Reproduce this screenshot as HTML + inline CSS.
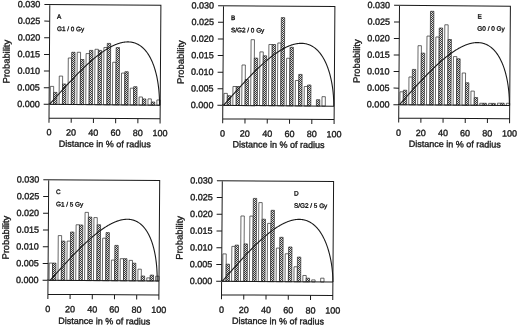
<!DOCTYPE html>
<html><head><meta charset="utf-8"><style>
html,body{margin:0;padding:0;background:#fff;width:520px;height:327px;overflow:hidden}
svg{display:block;filter:grayscale(1) blur(0.3px)}
text{font-family:"Liberation Sans",sans-serif;stroke:#1a1a1a;stroke-width:0.35px}
</style></head><body>
<svg width="520" height="327" viewBox="0 0 520 327">
<defs><pattern id="hatA" patternUnits="userSpaceOnUse" width="2" height="2" patternTransform="rotate(-0.4) translate(-49.8,-4.5)"><rect width="2" height="2" fill="#e0e0e0"/><rect width="1" height="1" fill="#3a3a3a"/><rect x="1" y="1" width="1" height="1" fill="#3a3a3a"/></pattern><pattern id="hatB" patternUnits="userSpaceOnUse" width="2" height="2" patternTransform="rotate(-0.4) translate(-223.5,-5.7)"><rect width="2" height="2" fill="#e0e0e0"/><rect width="1" height="1" fill="#3a3a3a"/><rect x="1" y="1" width="1" height="1" fill="#3a3a3a"/></pattern><pattern id="hatE" patternUnits="userSpaceOnUse" width="2" height="2" patternTransform="rotate(-0.4) translate(-399.5,-5.4)"><rect width="2" height="2" fill="#e0e0e0"/><rect width="1" height="1" fill="#3a3a3a"/><rect x="1" y="1" width="1" height="1" fill="#3a3a3a"/></pattern><pattern id="hatC" patternUnits="userSpaceOnUse" width="2" height="2" patternTransform="rotate(-0.4) translate(-48.7,-179.8)"><rect width="2" height="2" fill="#e0e0e0"/><rect width="1" height="1" fill="#3a3a3a"/><rect x="1" y="1" width="1" height="1" fill="#3a3a3a"/></pattern><pattern id="hatD" patternUnits="userSpaceOnUse" width="2" height="2" patternTransform="rotate(-0.4) translate(-222.3,-180.7)"><rect width="2" height="2" fill="#e0e0e0"/><rect width="1" height="1" fill="#3a3a3a"/><rect x="1" y="1" width="1" height="1" fill="#3a3a3a"/></pattern></defs>
<rect width="520" height="327" fill="#fff"/>
<g transform="translate(49.8,4.5) rotate(0.4)">
<rect x="1.09" y="81.87" width="3.35" height="18.03" fill="#fff" stroke="#2a2a2a" stroke-width="0.7"/>
<rect x="4.44" y="87.87" width="3.35" height="12.03" fill="url(#hatA)" stroke="#2a2a2a" stroke-width="0.7"/>
<rect x="9.98" y="71.51" width="3.35" height="28.39" fill="#fff" stroke="#2a2a2a" stroke-width="0.7"/>
<rect x="13.33" y="79.41" width="3.35" height="20.49" fill="url(#hatA)" stroke="#2a2a2a" stroke-width="0.7"/>
<rect x="18.87" y="53.34" width="3.35" height="46.56" fill="#fff" stroke="#2a2a2a" stroke-width="0.7"/>
<rect x="22.22" y="47.64" width="3.35" height="52.26" fill="url(#hatA)" stroke="#2a2a2a" stroke-width="0.7"/>
<rect x="27.76" y="47.58" width="3.35" height="52.32" fill="#fff" stroke="#2a2a2a" stroke-width="0.7"/>
<rect x="31.11" y="54.78" width="3.35" height="45.12" fill="url(#hatA)" stroke="#2a2a2a" stroke-width="0.7"/>
<rect x="36.65" y="48.82" width="3.35" height="51.08" fill="#fff" stroke="#2a2a2a" stroke-width="0.7"/>
<rect x="40" y="45.62" width="3.35" height="54.28" fill="url(#hatA)" stroke="#2a2a2a" stroke-width="0.7"/>
<rect x="45.53" y="44.46" width="3.35" height="55.44" fill="#fff" stroke="#2a2a2a" stroke-width="0.7"/>
<rect x="48.88" y="45.56" width="3.35" height="54.34" fill="url(#hatA)" stroke="#2a2a2a" stroke-width="0.7"/>
<rect x="54.42" y="42.6" width="3.35" height="57.3" fill="#fff" stroke="#2a2a2a" stroke-width="0.7"/>
<rect x="57.77" y="38.5" width="3.35" height="61.4" fill="url(#hatA)" stroke="#2a2a2a" stroke-width="0.7"/>
<rect x="63.31" y="57.33" width="3.35" height="42.57" fill="#fff" stroke="#2a2a2a" stroke-width="0.7"/>
<rect x="66.66" y="42.63" width="3.35" height="57.27" fill="url(#hatA)" stroke="#2a2a2a" stroke-width="0.7"/>
<rect x="72.2" y="68.07" width="3.35" height="31.83" fill="#fff" stroke="#2a2a2a" stroke-width="0.7"/>
<rect x="75.55" y="66.67" width="3.35" height="33.23" fill="url(#hatA)" stroke="#2a2a2a" stroke-width="0.7"/>
<rect x="81.09" y="83.11" width="3.35" height="16.79" fill="#fff" stroke="#2a2a2a" stroke-width="0.7"/>
<rect x="84.44" y="81.61" width="3.35" height="18.29" fill="url(#hatA)" stroke="#2a2a2a" stroke-width="0.7"/>
<rect x="89.97" y="91.85" width="3.35" height="8.05" fill="#fff" stroke="#2a2a2a" stroke-width="0.7"/>
<rect x="93.32" y="93.75" width="3.35" height="6.15" fill="url(#hatA)" stroke="#2a2a2a" stroke-width="0.7"/>
<rect x="98.86" y="93.69" width="3.35" height="6.21" fill="#fff" stroke="#2a2a2a" stroke-width="0.7"/>
<rect x="102.21" y="96.79" width="3.35" height="3.11" fill="url(#hatA)" stroke="#2a2a2a" stroke-width="0.7"/>
<rect x="107.75" y="94.72" width="3.35" height="5.18" fill="#fff" stroke="#2a2a2a" stroke-width="0.7"/>
<path d="M0.4,99.9 L0.77,99.48 L1.13,99.06 L1.5,98.65 L1.87,98.23 L2.23,97.81 L2.6,97.39 L2.97,96.97 L3.33,96.56 L3.7,96.14 L4.07,95.72 L4.43,95.31 L4.8,94.89 L5.17,94.47 L5.53,94.05 L5.9,93.64 L6.27,93.22 L6.63,92.81 L7,92.39 L7.37,91.97 L7.73,91.56 L8.1,91.14 L8.47,90.73 L8.83,90.31 L9.2,89.9 L9.57,89.49 L9.93,89.07 L10.3,88.66 L10.67,88.25 L11.03,87.83 L11.4,87.42 L11.77,87.01 L12.13,86.6 L12.5,86.19 L12.87,85.78 L13.23,85.37 L13.6,84.96 L13.97,84.55 L14.33,84.14 L14.7,83.73 L15.07,83.33 L15.43,82.92 L15.8,82.51 L16.17,82.11 L16.53,81.7 L16.9,81.3 L17.27,80.9 L17.63,80.49 L18,80.09 L18.37,79.69 L18.73,79.29 L19.1,78.89 L19.47,78.49 L19.83,78.09 L20.2,77.69 L20.57,77.29 L20.93,76.9 L21.3,76.5 L21.67,76.11 L22.03,75.71 L22.4,75.32 L22.77,74.93 L23.13,74.53 L23.5,74.14 L23.87,73.75 L24.23,73.37 L24.6,72.98 L24.97,72.59 L25.33,72.2 L25.7,71.82 L26.07,71.44 L26.43,71.05 L26.8,70.67 L27.17,70.29 L27.53,69.91 L27.9,69.53 L28.27,69.15 L28.63,68.78 L29,68.4 L29.37,68.03 L29.73,67.65 L30.1,67.28 L30.47,66.91 L30.83,66.54 L31.2,66.17 L31.57,65.8 L31.93,65.44 L32.3,65.07 L32.67,64.71 L33.03,64.35 L33.4,63.99 L33.77,63.63 L34.13,63.27 L34.5,62.91 L34.87,62.56 L35.23,62.2 L35.6,61.85 L35.97,61.5 L36.33,61.15 L36.7,60.8 L37.07,60.45 L37.43,60.11 L37.8,59.77 L38.17,59.42 L38.53,59.08 L38.9,58.74 L39.27,58.41 L39.63,58.07 L40,57.74 L40.37,57.4 L40.73,57.07 L41.1,56.74 L41.47,56.42 L41.83,56.09 L42.2,55.77 L42.57,55.45 L42.93,55.13 L43.3,54.81 L43.67,54.49 L44.03,54.18 L44.4,53.86 L44.77,53.55 L45.13,53.24 L45.5,52.94 L45.87,52.63 L46.23,52.33 L46.6,52.03 L46.97,51.73 L47.33,51.43 L47.7,51.14 L48.07,50.85 L48.43,50.56 L48.8,50.27 L49.17,49.98 L49.53,49.7 L49.9,49.42 L50.27,49.14 L50.63,48.86 L51,48.58 L51.37,48.31 L51.73,48.04 L52.1,47.77 L52.47,47.51 L52.83,47.25 L53.2,46.99 L53.57,46.73 L53.93,46.47 L54.3,46.22 L54.67,45.97 L55.03,45.72 L55.4,45.48 L55.77,45.23 L56.13,44.99 L56.5,44.76 L56.87,44.52 L57.23,44.29 L57.6,44.06 L57.97,43.84 L58.33,43.61 L58.7,43.39 L59.07,43.17 L59.43,42.96 L59.8,42.75 L60.17,42.54 L60.53,42.34 L60.9,42.13 L61.27,41.93 L61.63,41.74 L62,41.55 L62.37,41.36 L62.73,41.17 L63.1,40.99 L63.47,40.81 L63.83,40.63 L64.2,40.46 L64.57,40.29 L64.93,40.12 L65.3,39.96 L65.67,39.8 L66.03,39.65 L66.4,39.49 L66.77,39.35 L67.13,39.2 L67.5,39.06 L67.87,38.92 L68.23,38.79 L68.6,38.66 L68.97,38.54 L69.33,38.42 L69.7,38.3 L70.07,38.19 L70.43,38.08 L70.8,37.97 L71.17,37.87 L71.53,37.78 L71.9,37.69 L72.27,37.6 L72.63,37.52 L73,37.44 L73.37,37.36 L73.73,37.3 L74.1,37.23 L74.47,37.17 L74.83,37.12 L75.2,37.07 L75.57,37.02 L75.93,36.98 L76.3,36.95 L76.67,36.92 L77.03,36.89 L77.4,36.87 L77.77,36.86 L78.13,36.85 L78.5,36.85 L78.87,36.85 L79.23,36.86 L79.6,36.88 L79.97,36.9 L80.33,36.92 L80.7,36.95 L81.07,36.99 L81.43,37.04 L81.8,37.09 L82.17,37.15 L82.53,37.21 L82.9,37.28 L83.27,37.36 L83.63,37.44 L84,37.53 L84.37,37.63 L84.73,37.74 L85.1,37.85 L85.47,37.97 L85.83,38.1 L86.2,38.23 L86.57,38.37 L86.93,38.53 L87.3,38.69 L87.67,38.85 L88.03,39.03 L88.4,39.21 L88.77,39.41 L89.13,39.61 L89.5,39.82 L89.87,40.05 L90.23,40.28 L90.6,40.52 L90.97,40.77 L91.33,41.03 L91.7,41.3 L92.07,41.59 L92.43,41.88 L92.8,42.18 L93.17,42.5 L93.53,42.83 L93.9,43.17 L94.27,43.53 L94.63,43.89 L95,44.27 L95.37,44.67 L95.73,45.07 L96.1,45.5 L96.47,45.94 L96.65,46.16 L96.83,46.39 L97.2,46.86 L97.57,47.34 L97.93,47.85 L98.3,48.37 L98.67,48.91 L99.03,49.47 L99.4,50.05 L99.77,50.65 L100.13,51.27 L100.5,51.92 L100.87,52.59 L101.23,53.28 L101.6,54 L101.97,54.75 L102.33,55.53 L102.7,56.34 L103.07,57.19 L103.43,58.07 L103.53,58.29 L103.8,58.99 L104.17,59.95 L104.53,60.95 L104.9,62 L105.27,63.11 L105.63,64.27 L106,65.5 L106.37,66.8 L106.73,68.18 L106.96,69.09 L107.1,69.65 L107.47,71.23 L107.83,72.94 L108.2,74.81 L108.57,76.86 L108.68,77.55 L108.93,79.17 L109.3,81.83 L109.54,83.85 L109.67,85.04 L109.97,88.43 L110.03,89.29 L110.19,91.73 L110.29,94.08 L110.35,95.76 L110.37,96.96 L110.39,97.81 L110.39,98.41 L110.4,99.9" fill="none" stroke="#1a1a1a" stroke-width="1.1" stroke-linejoin="round"/>
<path d="M-5.4,0 H111.1 V118.2 M0,0 V118.2 M-5.4,99.9 H111.1 M0,113.6 H111.1" fill="none" stroke="#1a1a1a" stroke-width="1.0"/>
<path d="M-5.4,16.65 H0 M-5.4,33.3 H0 M-5.4,49.95 H0 M-5.4,66.6 H0 M-5.4,83.25 H0 M22.22,113.6 V118.2 M44.44,113.6 V118.2 M66.66,113.6 V118.2 M88.88,113.6 V118.2" fill="none" stroke="#1a1a1a" stroke-width="1.0"/>
<text x="-9.4" y="2.9" text-anchor="end" font-size="9.0" font-family="Liberation Sans, sans-serif" fill="#1a1a1a">0.030</text>
<text x="-9.4" y="19.55" text-anchor="end" font-size="9.0" font-family="Liberation Sans, sans-serif" fill="#1a1a1a">0.025</text>
<text x="-9.4" y="36.2" text-anchor="end" font-size="9.0" font-family="Liberation Sans, sans-serif" fill="#1a1a1a">0.020</text>
<text x="-9.4" y="52.85" text-anchor="end" font-size="9.0" font-family="Liberation Sans, sans-serif" fill="#1a1a1a">0.015</text>
<text x="-9.4" y="69.5" text-anchor="end" font-size="9.0" font-family="Liberation Sans, sans-serif" fill="#1a1a1a">0.010</text>
<text x="-9.4" y="86.15" text-anchor="end" font-size="9.0" font-family="Liberation Sans, sans-serif" fill="#1a1a1a">0.005</text>
<text x="-9.4" y="102.8" text-anchor="end" font-size="9.0" font-family="Liberation Sans, sans-serif" fill="#1a1a1a">0.000</text>
<text x="0" y="130.9" text-anchor="middle" font-size="9.0" font-family="Liberation Sans, sans-serif" fill="#1a1a1a">0</text>
<text x="22.22" y="130.9" text-anchor="middle" font-size="9.0" font-family="Liberation Sans, sans-serif" fill="#1a1a1a">20</text>
<text x="44.44" y="130.9" text-anchor="middle" font-size="9.0" font-family="Liberation Sans, sans-serif" fill="#1a1a1a">40</text>
<text x="66.66" y="130.9" text-anchor="middle" font-size="9.0" font-family="Liberation Sans, sans-serif" fill="#1a1a1a">60</text>
<text x="88.88" y="130.9" text-anchor="middle" font-size="9.0" font-family="Liberation Sans, sans-serif" fill="#1a1a1a">80</text>
<text x="111.1" y="130.9" text-anchor="middle" font-size="9.0" font-family="Liberation Sans, sans-serif" fill="#1a1a1a">100</text>
<text x="10" y="142.2" font-size="9.0" font-family="Liberation Sans, sans-serif" fill="#1a1a1a">Distance in % of radius</text>
<text transform="translate(-39.8,79.4) rotate(-90)" font-size="9.4" font-family="Liberation Sans, sans-serif" fill="#1a1a1a">Probability</text>
<text x="7.3" y="14.2" font-size="6.4" font-family="Liberation Sans, sans-serif" fill="#1a1a1a">A</text>
<text x="7.3" y="26.5" font-size="6.4" font-family="Liberation Sans, sans-serif" fill="#1a1a1a">G1 / 0 Gy</text>
</g>
<g transform="translate(223.5,5.7) rotate(0.4)">
<rect x="1.11" y="87.67" width="3.35" height="12.03" fill="#fff" stroke="#2a2a2a" stroke-width="0.7"/>
<rect x="4.46" y="89.97" width="3.35" height="9.73" fill="url(#hatB)" stroke="#2a2a2a" stroke-width="0.7"/>
<rect x="10.02" y="80.71" width="3.35" height="18.99" fill="#fff" stroke="#2a2a2a" stroke-width="0.7"/>
<rect x="13.37" y="80.71" width="3.35" height="18.99" fill="url(#hatB)" stroke="#2a2a2a" stroke-width="0.7"/>
<rect x="18.93" y="59.14" width="3.35" height="40.56" fill="#fff" stroke="#2a2a2a" stroke-width="0.7"/>
<rect x="22.28" y="73.74" width="3.35" height="25.96" fill="url(#hatB)" stroke="#2a2a2a" stroke-width="0.7"/>
<rect x="27.84" y="33.78" width="3.35" height="65.92" fill="#fff" stroke="#2a2a2a" stroke-width="0.7"/>
<rect x="31.19" y="52.18" width="3.35" height="47.52" fill="url(#hatB)" stroke="#2a2a2a" stroke-width="0.7"/>
<rect x="36.75" y="45.92" width="3.35" height="53.78" fill="#fff" stroke="#2a2a2a" stroke-width="0.7"/>
<rect x="40.1" y="49.82" width="3.35" height="49.88" fill="url(#hatB)" stroke="#2a2a2a" stroke-width="0.7"/>
<rect x="45.67" y="38.46" width="3.35" height="61.24" fill="#fff" stroke="#2a2a2a" stroke-width="0.7"/>
<rect x="49.02" y="38.46" width="3.35" height="61.24" fill="url(#hatB)" stroke="#2a2a2a" stroke-width="0.7"/>
<rect x="54.58" y="36.9" width="3.35" height="62.8" fill="#fff" stroke="#2a2a2a" stroke-width="0.7"/>
<rect x="57.93" y="11.5" width="3.35" height="88.2" fill="url(#hatB)" stroke="#2a2a2a" stroke-width="0.7"/>
<rect x="63.49" y="52.13" width="3.35" height="47.57" fill="#fff" stroke="#2a2a2a" stroke-width="0.7"/>
<rect x="66.84" y="41.13" width="3.35" height="58.57" fill="url(#hatB)" stroke="#2a2a2a" stroke-width="0.7"/>
<rect x="72.4" y="74.27" width="3.35" height="25.43" fill="#fff" stroke="#2a2a2a" stroke-width="0.7"/>
<rect x="75.75" y="68.17" width="3.35" height="31.53" fill="url(#hatB)" stroke="#2a2a2a" stroke-width="0.7"/>
<rect x="81.31" y="80.21" width="3.35" height="19.49" fill="#fff" stroke="#2a2a2a" stroke-width="0.7"/>
<rect x="84.66" y="78.71" width="3.35" height="20.99" fill="url(#hatB)" stroke="#2a2a2a" stroke-width="0.7"/>
<rect x="93.58" y="93.35" width="3.35" height="6.35" fill="url(#hatB)" stroke="#2a2a2a" stroke-width="0.7"/>
<rect x="99.14" y="90.28" width="3.35" height="9.42" fill="#fff" stroke="#2a2a2a" stroke-width="0.7"/>
<path d="M0.7,99.7 L1.07,99.28 L1.44,98.86 L1.8,98.43 L2.17,98.01 L2.54,97.59 L2.91,97.17 L3.27,96.75 L3.64,96.33 L4.01,95.91 L4.38,95.48 L4.74,95.06 L5.11,94.64 L5.48,94.22 L5.85,93.8 L6.21,93.38 L6.58,92.96 L6.95,92.54 L7.32,92.12 L7.68,91.7 L8.05,91.28 L8.42,90.86 L8.79,90.45 L9.15,90.03 L9.52,89.61 L9.89,89.19 L10.26,88.78 L10.63,88.36 L10.99,87.94 L11.36,87.53 L11.73,87.11 L12.1,86.7 L12.46,86.28 L12.83,85.87 L13.2,85.45 L13.57,85.04 L13.93,84.63 L14.3,84.22 L14.67,83.81 L15.04,83.39 L15.4,82.98 L15.77,82.57 L16.14,82.16 L16.51,81.76 L16.87,81.35 L17.24,80.94 L17.61,80.53 L17.98,80.13 L18.34,79.72 L18.71,79.32 L19.08,78.91 L19.45,78.51 L19.82,78.11 L20.18,77.71 L20.55,77.31 L20.92,76.91 L21.29,76.51 L21.65,76.11 L22.02,75.71 L22.39,75.32 L22.76,74.92 L23.12,74.52 L23.49,74.13 L23.86,73.74 L24.23,73.35 L24.59,72.95 L24.96,72.56 L25.33,72.18 L25.7,71.79 L26.06,71.4 L26.43,71.01 L26.8,70.63 L27.17,70.25 L27.53,69.86 L27.9,69.48 L28.27,69.1 L28.64,68.72 L29.01,68.34 L29.37,67.97 L29.74,67.59 L30.11,67.22 L30.48,66.84 L30.84,66.47 L31.21,66.1 L31.58,65.73 L31.95,65.36 L32.31,64.99 L32.68,64.63 L33.05,64.26 L33.42,63.9 L33.78,63.54 L34.15,63.18 L34.52,62.82 L34.89,62.46 L35.25,62.11 L35.62,61.75 L35.99,61.4 L36.36,61.05 L36.72,60.7 L37.09,60.35 L37.46,60 L37.83,59.66 L38.2,59.32 L38.56,58.97 L38.93,58.63 L39.3,58.3 L39.67,57.96 L40.03,57.62 L40.4,57.29 L40.77,56.96 L41.14,56.63 L41.5,56.3 L41.87,55.97 L42.24,55.65 L42.61,55.33 L42.97,55.01 L43.34,54.69 L43.71,54.37 L44.08,54.06 L44.44,53.74 L44.81,53.43 L45.18,53.12 L45.55,52.82 L45.91,52.51 L46.28,52.21 L46.65,51.91 L47.02,51.61 L47.39,51.31 L47.75,51.02 L48.12,50.73 L48.49,50.44 L48.86,50.15 L49.22,49.86 L49.59,49.58 L49.96,49.3 L50.33,49.02 L50.69,48.75 L51.06,48.47 L51.43,48.2 L51.8,47.93 L52.16,47.67 L52.53,47.4 L52.9,47.14 L53.27,46.88 L53.63,46.63 L54,46.37 L54.37,46.12 L54.74,45.87 L55.1,45.63 L55.47,45.38 L55.84,45.14 L56.21,44.91 L56.58,44.67 L56.94,44.44 L57.31,44.21 L57.68,43.99 L58.05,43.76 L58.41,43.54 L58.78,43.33 L59.15,43.11 L59.52,42.9 L59.88,42.69 L60.25,42.49 L60.62,42.28 L60.99,42.09 L61.35,41.89 L61.72,41.7 L62.09,41.51 L62.46,41.32 L62.82,41.14 L63.19,40.96 L63.56,40.79 L63.93,40.62 L64.29,40.45 L64.66,40.28 L65.03,40.12 L65.4,39.96 L65.77,39.81 L66.13,39.66 L66.5,39.51 L66.87,39.37 L67.24,39.23 L67.6,39.09 L67.97,38.96 L68.34,38.84 L68.71,38.71 L69.07,38.59 L69.44,38.48 L69.81,38.37 L70.18,38.26 L70.54,38.16 L70.91,38.06 L71.28,37.97 L71.65,37.88 L72.01,37.79 L72.38,37.71 L72.75,37.63 L73.12,37.56 L73.48,37.5 L73.85,37.43 L74.22,37.38 L74.59,37.32 L74.96,37.28 L75.32,37.23 L75.69,37.2 L76.06,37.16 L76.43,37.14 L76.79,37.11 L77.16,37.1 L77.53,37.09 L77.9,37.08 L78.26,37.08 L78.63,37.09 L79,37.1 L79.37,37.11 L79.73,37.14 L80.1,37.16 L80.47,37.2 L80.84,37.24 L81.2,37.29 L81.57,37.34 L81.94,37.4 L82.31,37.46 L82.67,37.54 L83.04,37.62 L83.41,37.7 L83.78,37.8 L84.15,37.89 L84.51,38 L84.88,38.12 L85.25,38.24 L85.62,38.37 L85.98,38.5 L86.35,38.65 L86.72,38.8 L87.09,38.96 L87.45,39.13 L87.82,39.31 L88.19,39.49 L88.56,39.68 L88.92,39.89 L89.29,40.1 L89.66,40.32 L90.03,40.55 L90.39,40.79 L90.76,41.04 L91.13,41.3 L91.5,41.57 L91.86,41.85 L92.23,42.14 L92.6,42.44 L92.97,42.75 L93.34,43.08 L93.7,43.41 L94.07,43.76 L94.44,44.12 L94.81,44.49 L95.17,44.88 L95.54,45.28 L95.91,45.69 L96.28,46.12 L96.64,46.56 L97.01,47.02 L97.2,47.25 L97.38,47.49 L97.75,47.98 L98.11,48.48 L98.48,49.01 L98.85,49.55 L99.22,50.11 L99.58,50.68 L99.95,51.28 L100.32,51.9 L100.69,52.54 L101.05,53.2 L101.42,53.89 L101.79,54.6 L102.16,55.34 L102.53,56.11 L102.89,56.9 L103.26,57.73 L103.63,58.58 L104,59.48 L104.09,59.71 L104.36,60.41 L104.73,61.38 L105.1,62.39 L105.47,63.45 L105.83,64.56 L106.2,65.73 L106.57,66.96 L106.94,68.26 L107.3,69.64 L107.53,70.54 L107.67,71.1 L108.04,72.67 L108.41,74.36 L108.77,76.19 L109.14,78.21 L109.26,78.88 L109.51,80.46 L109.88,83.04 L110.12,84.99 L110.24,86.12 L110.55,89.35 L110.61,90.16 L110.76,92.44 L110.87,94.61 L110.93,96.14 L110.95,97.21 L110.97,97.96 L110.97,98.48 L110.98,99.7" fill="none" stroke="#1a1a1a" stroke-width="1.1" stroke-linejoin="round"/>
<path d="M-5.4,0 H111.4 V117.6 M0,0 V117.6 M-5.4,99.7 H111.4 M0,113 H111.4" fill="none" stroke="#1a1a1a" stroke-width="1.0"/>
<path d="M-5.4,16.62 H0 M-5.4,33.23 H0 M-5.4,49.85 H0 M-5.4,66.47 H0 M-5.4,83.08 H0 M22.28,113 V117.6 M44.56,113 V117.6 M66.84,113 V117.6 M89.12,113 V117.6" fill="none" stroke="#1a1a1a" stroke-width="1.0"/>
<text x="-9.4" y="2.9" text-anchor="end" font-size="9.0" font-family="Liberation Sans, sans-serif" fill="#1a1a1a">0.030</text>
<text x="-9.4" y="19.52" text-anchor="end" font-size="9.0" font-family="Liberation Sans, sans-serif" fill="#1a1a1a">0.025</text>
<text x="-9.4" y="36.13" text-anchor="end" font-size="9.0" font-family="Liberation Sans, sans-serif" fill="#1a1a1a">0.020</text>
<text x="-9.4" y="52.75" text-anchor="end" font-size="9.0" font-family="Liberation Sans, sans-serif" fill="#1a1a1a">0.015</text>
<text x="-9.4" y="69.37" text-anchor="end" font-size="9.0" font-family="Liberation Sans, sans-serif" fill="#1a1a1a">0.010</text>
<text x="-9.4" y="85.98" text-anchor="end" font-size="9.0" font-family="Liberation Sans, sans-serif" fill="#1a1a1a">0.005</text>
<text x="-9.4" y="102.6" text-anchor="end" font-size="9.0" font-family="Liberation Sans, sans-serif" fill="#1a1a1a">0.000</text>
<text x="0" y="130.8" text-anchor="middle" font-size="9.0" font-family="Liberation Sans, sans-serif" fill="#1a1a1a">0</text>
<text x="22.28" y="130.8" text-anchor="middle" font-size="9.0" font-family="Liberation Sans, sans-serif" fill="#1a1a1a">20</text>
<text x="44.56" y="130.8" text-anchor="middle" font-size="9.0" font-family="Liberation Sans, sans-serif" fill="#1a1a1a">40</text>
<text x="66.84" y="130.8" text-anchor="middle" font-size="9.0" font-family="Liberation Sans, sans-serif" fill="#1a1a1a">60</text>
<text x="89.12" y="130.8" text-anchor="middle" font-size="9.0" font-family="Liberation Sans, sans-serif" fill="#1a1a1a">80</text>
<text x="111.4" y="130.8" text-anchor="middle" font-size="9.0" font-family="Liberation Sans, sans-serif" fill="#1a1a1a">100</text>
<text x="10" y="141.6" font-size="9.0" font-family="Liberation Sans, sans-serif" fill="#1a1a1a">Distance in % of radius</text>
<text transform="translate(-39.3,78.6) rotate(-90)" font-size="9.4" font-family="Liberation Sans, sans-serif" fill="#1a1a1a">Probability</text>
<text x="7.6" y="14.2" font-size="6.4" font-family="Liberation Sans, sans-serif" fill="#1a1a1a">B</text>
<text x="7.6" y="26.5" font-size="6.4" font-family="Liberation Sans, sans-serif" fill="#1a1a1a">S/G2 / 0 Gy</text>
</g>
<g transform="translate(399.5,5.4) rotate(0.4)">
<rect x="1.09" y="86.37" width="3.35" height="12.93" fill="#fff" stroke="#2a2a2a" stroke-width="0.7"/>
<rect x="4.44" y="84.77" width="3.35" height="14.53" fill="url(#hatE)" stroke="#2a2a2a" stroke-width="0.7"/>
<rect x="9.96" y="71.51" width="3.35" height="27.79" fill="#fff" stroke="#2a2a2a" stroke-width="0.7"/>
<rect x="13.31" y="63.91" width="3.35" height="35.39" fill="url(#hatE)" stroke="#2a2a2a" stroke-width="0.7"/>
<rect x="18.83" y="40.15" width="3.35" height="59.15" fill="#fff" stroke="#2a2a2a" stroke-width="0.7"/>
<rect x="22.18" y="47.55" width="3.35" height="51.75" fill="url(#hatE)" stroke="#2a2a2a" stroke-width="0.7"/>
<rect x="27.7" y="30.48" width="3.35" height="68.82" fill="#fff" stroke="#2a2a2a" stroke-width="0.7"/>
<rect x="31.05" y="5.68" width="3.35" height="93.62" fill="url(#hatE)" stroke="#2a2a2a" stroke-width="0.7"/>
<rect x="36.57" y="31.32" width="3.35" height="67.98" fill="#fff" stroke="#2a2a2a" stroke-width="0.7"/>
<rect x="39.92" y="22.32" width="3.35" height="76.98" fill="url(#hatE)" stroke="#2a2a2a" stroke-width="0.7"/>
<rect x="45.45" y="19.06" width="3.35" height="80.24" fill="#fff" stroke="#2a2a2a" stroke-width="0.7"/>
<rect x="48.8" y="33.76" width="3.35" height="65.54" fill="url(#hatE)" stroke="#2a2a2a" stroke-width="0.7"/>
<rect x="54.32" y="50.8" width="3.35" height="48.5" fill="#fff" stroke="#2a2a2a" stroke-width="0.7"/>
<rect x="57.67" y="53" width="3.35" height="46.3" fill="url(#hatE)" stroke="#2a2a2a" stroke-width="0.7"/>
<rect x="63.19" y="67.14" width="3.35" height="32.16" fill="#fff" stroke="#2a2a2a" stroke-width="0.7"/>
<rect x="66.54" y="76.94" width="3.35" height="22.36" fill="url(#hatE)" stroke="#2a2a2a" stroke-width="0.7"/>
<rect x="72.06" y="85.17" width="3.35" height="14.13" fill="#fff" stroke="#2a2a2a" stroke-width="0.7"/>
<rect x="75.41" y="91.67" width="3.35" height="7.63" fill="url(#hatE)" stroke="#2a2a2a" stroke-width="0.7"/>
<rect x="80.93" y="97.31" width="3.35" height="1.99" fill="#fff" stroke="#2a2a2a" stroke-width="0.7"/>
<rect x="84.28" y="97.31" width="3.35" height="1.99" fill="url(#hatE)" stroke="#2a2a2a" stroke-width="0.7"/>
<rect x="89.81" y="97.35" width="3.35" height="1.95" fill="#fff" stroke="#2a2a2a" stroke-width="0.7"/>
<rect x="93.16" y="97.35" width="3.35" height="1.95" fill="url(#hatE)" stroke="#2a2a2a" stroke-width="0.7"/>
<rect x="98.68" y="97.09" width="3.35" height="2.21" fill="#fff" stroke="#2a2a2a" stroke-width="0.7"/>
<rect x="102.03" y="97.09" width="3.35" height="2.21" fill="url(#hatE)" stroke="#2a2a2a" stroke-width="0.7"/>
<rect x="107.55" y="97.13" width="3.35" height="2.17" fill="#fff" stroke="#2a2a2a" stroke-width="0.7"/>
<path d="M0.6,99.3 L0.97,98.88 L1.33,98.46 L1.7,98.04 L2.07,97.63 L2.43,97.21 L2.8,96.79 L3.17,96.37 L3.53,95.95 L3.9,95.53 L4.27,95.12 L4.63,94.7 L5,94.28 L5.37,93.86 L5.73,93.45 L6.1,93.03 L6.47,92.61 L6.83,92.2 L7.2,91.78 L7.57,91.36 L7.93,90.95 L8.3,90.53 L8.67,90.12 L9.03,89.7 L9.4,89.29 L9.77,88.87 L10.13,88.46 L10.5,88.04 L10.87,87.63 L11.23,87.22 L11.6,86.81 L11.97,86.39 L12.33,85.98 L12.7,85.57 L13.07,85.16 L13.43,84.75 L13.8,84.34 L14.17,83.93 L14.53,83.52 L14.9,83.11 L15.27,82.71 L15.63,82.3 L16,81.89 L16.37,81.49 L16.73,81.08 L17.1,80.68 L17.47,80.27 L17.83,79.87 L18.2,79.47 L18.57,79.07 L18.93,78.66 L19.3,78.26 L19.67,77.86 L20.03,77.47 L20.4,77.07 L20.77,76.67 L21.13,76.27 L21.5,75.88 L21.87,75.48 L22.23,75.09 L22.6,74.69 L22.97,74.3 L23.33,73.91 L23.7,73.52 L24.07,73.13 L24.43,72.74 L24.8,72.35 L25.17,71.97 L25.53,71.58 L25.9,71.2 L26.27,70.81 L26.63,70.43 L27,70.05 L27.37,69.67 L27.73,69.29 L28.1,68.91 L28.47,68.53 L28.83,68.15 L29.2,67.78 L29.57,67.4 L29.93,67.03 L30.3,66.66 L30.67,66.29 L31.03,65.92 L31.4,65.55 L31.77,65.19 L32.13,64.82 L32.5,64.46 L32.87,64.09 L33.23,63.73 L33.6,63.37 L33.97,63.01 L34.33,62.66 L34.7,62.3 L35.07,61.94 L35.43,61.59 L35.8,61.24 L36.17,60.89 L36.53,60.54 L36.9,60.19 L37.27,59.85 L37.63,59.5 L38,59.16 L38.37,58.82 L38.73,58.48 L39.1,58.14 L39.47,57.81 L39.83,57.47 L40.2,57.14 L40.57,56.81 L40.93,56.48 L41.3,56.15 L41.67,55.83 L42.03,55.5 L42.4,55.18 L42.77,54.86 L43.13,54.54 L43.5,54.22 L43.87,53.91 L44.23,53.6 L44.6,53.29 L44.97,52.98 L45.33,52.67 L45.7,52.36 L46.07,52.06 L46.43,51.76 L46.8,51.46 L47.17,51.16 L47.53,50.87 L47.9,50.58 L48.27,50.29 L48.63,50 L49,49.71 L49.37,49.43 L49.73,49.15 L50.1,48.87 L50.47,48.59 L50.83,48.32 L51.2,48.04 L51.57,47.77 L51.93,47.51 L52.3,47.24 L52.67,46.98 L53.03,46.72 L53.4,46.46 L53.77,46.21 L54.13,45.95 L54.5,45.7 L54.87,45.46 L55.23,45.21 L55.6,44.97 L55.97,44.73 L56.33,44.49 L56.7,44.26 L57.07,44.03 L57.43,43.8 L57.8,43.57 L58.17,43.35 L58.53,43.13 L58.9,42.92 L59.27,42.7 L59.63,42.49 L60,42.28 L60.37,42.08 L60.73,41.88 L61.1,41.68 L61.47,41.48 L61.83,41.29 L62.2,41.1 L62.57,40.92 L62.93,40.73 L63.3,40.56 L63.67,40.38 L64.03,40.21 L64.4,40.04 L64.77,39.87 L65.13,39.71 L65.5,39.55 L65.87,39.4 L66.23,39.25 L66.6,39.1 L66.97,38.96 L67.33,38.82 L67.7,38.68 L68.07,38.55 L68.43,38.42 L68.8,38.3 L69.17,38.18 L69.53,38.06 L69.9,37.95 L70.27,37.84 L70.63,37.74 L71,37.64 L71.37,37.55 L71.73,37.46 L72.1,37.37 L72.47,37.29 L72.83,37.21 L73.2,37.14 L73.57,37.07 L73.93,37.01 L74.3,36.95 L74.67,36.9 L75.03,36.85 L75.4,36.8 L75.77,36.77 L76.13,36.73 L76.5,36.7 L76.87,36.68 L77.23,36.66 L77.6,36.65 L77.97,36.64 L78.33,36.64 L78.7,36.64 L79.07,36.65 L79.43,36.67 L79.8,36.69 L80.17,36.72 L80.53,36.75 L80.9,36.79 L81.27,36.83 L81.63,36.89 L82,36.94 L82.37,37.01 L82.73,37.08 L83.1,37.16 L83.47,37.24 L83.83,37.33 L84.2,37.43 L84.57,37.54 L84.93,37.65 L85.3,37.77 L85.67,37.9 L86.03,38.03 L86.4,38.18 L86.77,38.33 L87.13,38.49 L87.5,38.65 L87.87,38.83 L88.23,39.01 L88.6,39.21 L88.97,39.41 L89.33,39.62 L89.7,39.84 L90.07,40.07 L90.43,40.31 L90.8,40.56 L91.17,40.82 L91.53,41.09 L91.9,41.37 L92.27,41.66 L92.63,41.96 L93,42.27 L93.37,42.6 L93.73,42.94 L94.1,43.29 L94.47,43.65 L94.83,44.02 L95.2,44.41 L95.57,44.81 L95.93,45.23 L96.3,45.66 L96.67,46.11 L96.85,46.33 L97.03,46.57 L97.4,47.04 L97.77,47.54 L98.13,48.05 L98.5,48.58 L98.87,49.13 L99.23,49.69 L99.6,50.28 L99.97,50.89 L100.33,51.52 L100.7,52.17 L101.07,52.85 L101.43,53.55 L101.8,54.27 L102.17,55.03 L102.53,55.81 L102.9,56.63 L103.27,57.48 L103.63,58.36 L103.72,58.59 L104,59.28 L104.37,60.25 L104.73,61.25 L105.1,62.31 L105.47,63.41 L105.83,64.58 L106.2,65.8 L106.57,67.1 L106.93,68.47 L107.16,69.38 L107.3,69.94 L107.67,71.51 L108.03,73.2 L108.4,75.05 L108.77,77.08 L108.88,77.76 L109.13,79.35 L109.5,81.97 L109.74,83.95 L109.87,85.11 L110.17,88.41 L110.23,89.24 L110.39,91.6 L110.49,93.86 L110.55,95.46 L110.57,96.59 L110.59,97.39 L110.59,97.95 L110.6,99.3" fill="none" stroke="#1a1a1a" stroke-width="1.1" stroke-linejoin="round"/>
<path d="M-5.4,0 H110.9 V117.1 M0,0 V117.1 M-5.4,99.3 H110.9 M0,112.5 H110.9" fill="none" stroke="#1a1a1a" stroke-width="1.0"/>
<path d="M-5.4,16.55 H0 M-5.4,33.1 H0 M-5.4,49.65 H0 M-5.4,66.2 H0 M-5.4,82.75 H0 M22.18,112.5 V117.1 M44.36,112.5 V117.1 M66.54,112.5 V117.1 M88.72,112.5 V117.1" fill="none" stroke="#1a1a1a" stroke-width="1.0"/>
<text x="-9.4" y="2.9" text-anchor="end" font-size="9.0" font-family="Liberation Sans, sans-serif" fill="#1a1a1a">0.030</text>
<text x="-9.4" y="19.45" text-anchor="end" font-size="9.0" font-family="Liberation Sans, sans-serif" fill="#1a1a1a">0.025</text>
<text x="-9.4" y="36" text-anchor="end" font-size="9.0" font-family="Liberation Sans, sans-serif" fill="#1a1a1a">0.020</text>
<text x="-9.4" y="52.55" text-anchor="end" font-size="9.0" font-family="Liberation Sans, sans-serif" fill="#1a1a1a">0.015</text>
<text x="-9.4" y="69.1" text-anchor="end" font-size="9.0" font-family="Liberation Sans, sans-serif" fill="#1a1a1a">0.010</text>
<text x="-9.4" y="85.65" text-anchor="end" font-size="9.0" font-family="Liberation Sans, sans-serif" fill="#1a1a1a">0.005</text>
<text x="-9.4" y="102.2" text-anchor="end" font-size="9.0" font-family="Liberation Sans, sans-serif" fill="#1a1a1a">0.000</text>
<text x="0" y="130.4" text-anchor="middle" font-size="9.0" font-family="Liberation Sans, sans-serif" fill="#1a1a1a">0</text>
<text x="22.18" y="130.4" text-anchor="middle" font-size="9.0" font-family="Liberation Sans, sans-serif" fill="#1a1a1a">20</text>
<text x="44.36" y="130.4" text-anchor="middle" font-size="9.0" font-family="Liberation Sans, sans-serif" fill="#1a1a1a">40</text>
<text x="66.54" y="130.4" text-anchor="middle" font-size="9.0" font-family="Liberation Sans, sans-serif" fill="#1a1a1a">60</text>
<text x="88.72" y="130.4" text-anchor="middle" font-size="9.0" font-family="Liberation Sans, sans-serif" fill="#1a1a1a">80</text>
<text x="110.9" y="130.4" text-anchor="middle" font-size="9.0" font-family="Liberation Sans, sans-serif" fill="#1a1a1a">100</text>
<text x="10.2" y="141.4" font-size="9.0" font-family="Liberation Sans, sans-serif" fill="#1a1a1a">Distance in % of radius</text>
<text transform="translate(-39.3,78) rotate(-90)" font-size="9.4" font-family="Liberation Sans, sans-serif" fill="#1a1a1a">Probability</text>
<text x="78" y="12.5" font-size="6.4" font-family="Liberation Sans, sans-serif" fill="#1a1a1a">E</text>
<text x="78" y="24.8" font-size="6.4" font-family="Liberation Sans, sans-serif" fill="#1a1a1a">G0 / 0 Gy</text>
</g>
<g transform="translate(48.7,179.8) rotate(0.4)">
<rect x="1.09" y="83.27" width="3.35" height="17.23" fill="#fff" stroke="#2a2a2a" stroke-width="0.7"/>
<rect x="4.44" y="83.27" width="3.35" height="17.23" fill="url(#hatC)" stroke="#2a2a2a" stroke-width="0.7"/>
<rect x="9.97" y="55.71" width="3.35" height="44.79" fill="#fff" stroke="#2a2a2a" stroke-width="0.7"/>
<rect x="13.32" y="61.21" width="3.35" height="39.29" fill="url(#hatC)" stroke="#2a2a2a" stroke-width="0.7"/>
<rect x="18.85" y="61.15" width="3.35" height="39.35" fill="#fff" stroke="#2a2a2a" stroke-width="0.7"/>
<rect x="22.2" y="52.05" width="3.35" height="48.45" fill="url(#hatC)" stroke="#2a2a2a" stroke-width="0.7"/>
<rect x="27.73" y="44.78" width="3.35" height="55.72" fill="#fff" stroke="#2a2a2a" stroke-width="0.7"/>
<rect x="31.08" y="44.98" width="3.35" height="55.52" fill="url(#hatC)" stroke="#2a2a2a" stroke-width="0.7"/>
<rect x="36.61" y="32.32" width="3.35" height="68.18" fill="#fff" stroke="#2a2a2a" stroke-width="0.7"/>
<rect x="39.96" y="37.02" width="3.35" height="63.48" fill="url(#hatC)" stroke="#2a2a2a" stroke-width="0.7"/>
<rect x="45.49" y="37.46" width="3.35" height="63.04" fill="#fff" stroke="#2a2a2a" stroke-width="0.7"/>
<rect x="48.84" y="44.66" width="3.35" height="55.84" fill="url(#hatC)" stroke="#2a2a2a" stroke-width="0.7"/>
<rect x="54.37" y="58" width="3.35" height="42.5" fill="#fff" stroke="#2a2a2a" stroke-width="0.7"/>
<rect x="57.72" y="52.4" width="3.35" height="48.1" fill="url(#hatC)" stroke="#2a2a2a" stroke-width="0.7"/>
<rect x="63.25" y="79.84" width="3.35" height="20.66" fill="#fff" stroke="#2a2a2a" stroke-width="0.7"/>
<rect x="66.6" y="65.14" width="3.35" height="35.36" fill="url(#hatC)" stroke="#2a2a2a" stroke-width="0.7"/>
<rect x="72.13" y="78.37" width="3.35" height="22.13" fill="#fff" stroke="#2a2a2a" stroke-width="0.7"/>
<rect x="75.48" y="78.37" width="3.35" height="22.13" fill="url(#hatC)" stroke="#2a2a2a" stroke-width="0.7"/>
<rect x="81.01" y="80.01" width="3.35" height="20.49" fill="#fff" stroke="#2a2a2a" stroke-width="0.7"/>
<rect x="84.36" y="82.81" width="3.35" height="17.69" fill="url(#hatC)" stroke="#2a2a2a" stroke-width="0.7"/>
<rect x="89.89" y="88.75" width="3.35" height="11.75" fill="#fff" stroke="#2a2a2a" stroke-width="0.7"/>
<rect x="93.24" y="95.55" width="3.35" height="4.95" fill="url(#hatC)" stroke="#2a2a2a" stroke-width="0.7"/>
<rect x="98.77" y="97.39" width="3.35" height="3.11" fill="#fff" stroke="#2a2a2a" stroke-width="0.7"/>
<rect x="102.12" y="94.59" width="3.35" height="5.91" fill="url(#hatC)" stroke="#2a2a2a" stroke-width="0.7"/>
<rect x="107.65" y="95.63" width="3.35" height="4.87" fill="#fff" stroke="#2a2a2a" stroke-width="0.7"/>
<path d="M2.1,100.5 L2.46,100.1 L2.81,99.7 L3.17,99.29 L3.53,98.89 L3.88,98.49 L4.24,98.09 L4.6,97.69 L4.96,97.29 L5.31,96.88 L5.67,96.48 L6.03,96.08 L6.38,95.68 L6.74,95.28 L7.1,94.88 L7.45,94.48 L7.81,94.08 L8.17,93.68 L8.52,93.28 L8.88,92.88 L9.24,92.48 L9.59,92.08 L9.95,91.68 L10.31,91.28 L10.67,90.88 L11.02,90.48 L11.38,90.09 L11.74,89.69 L12.09,89.29 L12.45,88.89 L12.81,88.5 L13.16,88.1 L13.52,87.71 L13.88,87.31 L14.23,86.92 L14.59,86.52 L14.95,86.13 L15.31,85.73 L15.66,85.34 L16.02,84.95 L16.38,84.56 L16.73,84.16 L17.09,83.77 L17.45,83.38 L17.8,82.99 L18.16,82.6 L18.52,82.22 L18.87,81.83 L19.23,81.44 L19.59,81.05 L19.95,80.67 L20.3,80.28 L20.66,79.9 L21.02,79.51 L21.37,79.13 L21.73,78.74 L22.09,78.36 L22.44,77.98 L22.8,77.6 L23.16,77.22 L23.51,76.84 L23.87,76.46 L24.23,76.08 L24.58,75.71 L24.94,75.33 L25.3,74.96 L25.66,74.58 L26.01,74.21 L26.37,73.84 L26.73,73.46 L27.08,73.09 L27.44,72.72 L27.8,72.35 L28.15,71.99 L28.51,71.62 L28.87,71.25 L29.22,70.89 L29.58,70.52 L29.94,70.16 L30.3,69.8 L30.65,69.44 L31.01,69.08 L31.37,68.72 L31.72,68.36 L32.08,68.01 L32.44,67.65 L32.79,67.3 L33.15,66.94 L33.51,66.59 L33.86,66.24 L34.22,65.89 L34.58,65.54 L34.93,65.2 L35.29,64.85 L35.65,64.51 L36.01,64.16 L36.36,63.82 L36.72,63.48 L37.08,63.14 L37.43,62.8 L37.79,62.47 L38.15,62.13 L38.5,61.8 L38.86,61.47 L39.22,61.14 L39.57,60.81 L39.93,60.48 L40.29,60.15 L40.65,59.83 L41,59.51 L41.36,59.18 L41.72,58.87 L42.07,58.55 L42.43,58.23 L42.79,57.91 L43.14,57.6 L43.5,57.29 L43.86,56.98 L44.21,56.67 L44.57,56.36 L44.93,56.06 L45.28,55.76 L45.64,55.45 L46,55.16 L46.36,54.86 L46.71,54.56 L47.07,54.27 L47.43,53.98 L47.78,53.69 L48.14,53.4 L48.5,53.11 L48.85,52.83 L49.21,52.54 L49.57,52.26 L49.92,51.99 L50.28,51.71 L50.64,51.44 L51,51.16 L51.35,50.89 L51.71,50.63 L52.07,50.36 L52.42,50.1 L52.78,49.84 L53.14,49.58 L53.49,49.32 L53.85,49.07 L54.21,48.81 L54.56,48.57 L54.92,48.32 L55.28,48.07 L55.63,47.83 L55.99,47.59 L56.35,47.35 L56.71,47.12 L57.06,46.89 L57.42,46.66 L57.78,46.43 L58.13,46.2 L58.49,45.98 L58.85,45.76 L59.2,45.55 L59.56,45.33 L59.92,45.12 L60.27,44.91 L60.63,44.71 L60.99,44.51 L61.35,44.31 L61.7,44.11 L62.06,43.92 L62.42,43.73 L62.77,43.54 L63.13,43.35 L63.49,43.17 L63.84,42.99 L64.2,42.82 L64.56,42.65 L64.91,42.48 L65.27,42.31 L65.63,42.15 L65.99,41.99 L66.34,41.84 L66.7,41.69 L67.06,41.54 L67.41,41.39 L67.77,41.25 L68.13,41.11 L68.48,40.98 L68.84,40.85 L69.2,40.72 L69.55,40.6 L69.91,40.48 L70.27,40.37 L70.62,40.25 L70.98,40.15 L71.34,40.04 L71.7,39.94 L72.05,39.85 L72.41,39.76 L72.77,39.67 L73.12,39.59 L73.48,39.51 L73.84,39.44 L74.19,39.37 L74.55,39.31 L74.91,39.25 L75.26,39.19 L75.62,39.14 L75.98,39.1 L76.34,39.05 L76.69,39.02 L77.05,38.99 L77.41,38.96 L77.76,38.94 L78.12,38.93 L78.48,38.92 L78.83,38.91 L79.19,38.91 L79.55,38.92 L79.9,38.93 L80.26,38.95 L80.62,38.97 L80.97,39 L81.33,39.03 L81.69,39.08 L82.05,39.12 L82.4,39.18 L82.76,39.24 L83.12,39.3 L83.47,39.38 L83.83,39.46 L84.19,39.54 L84.54,39.64 L84.9,39.74 L85.26,39.85 L85.61,39.96 L85.97,40.08 L86.33,40.21 L86.69,40.35 L87.04,40.5 L87.4,40.65 L87.76,40.82 L88.11,40.99 L88.47,41.17 L88.83,41.36 L89.18,41.55 L89.54,41.76 L89.9,41.98 L90.25,42.2 L90.61,42.44 L90.97,42.68 L91.32,42.94 L91.68,43.21 L92.04,43.49 L92.4,43.77 L92.75,44.07 L93.11,44.39 L93.47,44.71 L93.82,45.05 L94.18,45.4 L94.54,45.76 L94.89,46.14 L95.25,46.53 L95.61,46.94 L95.79,47.15 L95.96,47.36 L96.32,47.79 L96.68,48.25 L97.04,48.72 L97.39,49.2 L97.75,49.71 L98.11,50.23 L98.46,50.78 L98.82,51.34 L99.18,51.93 L99.53,52.53 L99.89,53.17 L100.25,53.82 L100.6,54.51 L100.96,55.22 L101.32,55.96 L101.68,56.73 L102.03,57.53 L102.39,58.37 L102.48,58.59 L102.75,59.25 L103.1,60.17 L103.46,61.13 L103.82,62.14 L104.17,63.2 L104.53,64.33 L104.89,65.51 L105.24,66.77 L105.6,68.11 L105.82,69 L105.96,69.55 L106.31,71.09 L106.67,72.76 L107.03,74.59 L107.39,76.62 L107.5,77.3 L107.74,78.91 L108.1,81.56 L108.33,83.59 L108.46,84.78 L108.75,88.23 L108.81,89.1 L108.96,91.62 L109.07,94.08 L109.12,95.86 L109.14,97.15 L109.16,98.08 L109.16,98.75 L109.17,100.5" fill="none" stroke="#1a1a1a" stroke-width="1.1" stroke-linejoin="round"/>
<path d="M-5.4,0 H111 V119.1 M0,0 V119.1 M-5.4,100.5 H111 M0,114.5 H111" fill="none" stroke="#1a1a1a" stroke-width="1.0"/>
<path d="M-5.4,16.75 H0 M-5.4,33.5 H0 M-5.4,50.25 H0 M-5.4,67 H0 M-5.4,83.75 H0 M22.2,114.5 V119.1 M44.4,114.5 V119.1 M66.6,114.5 V119.1 M88.8,114.5 V119.1" fill="none" stroke="#1a1a1a" stroke-width="1.0"/>
<text x="-9.4" y="2.9" text-anchor="end" font-size="9.0" font-family="Liberation Sans, sans-serif" fill="#1a1a1a">0.030</text>
<text x="-9.4" y="19.65" text-anchor="end" font-size="9.0" font-family="Liberation Sans, sans-serif" fill="#1a1a1a">0.025</text>
<text x="-9.4" y="36.4" text-anchor="end" font-size="9.0" font-family="Liberation Sans, sans-serif" fill="#1a1a1a">0.020</text>
<text x="-9.4" y="53.15" text-anchor="end" font-size="9.0" font-family="Liberation Sans, sans-serif" fill="#1a1a1a">0.015</text>
<text x="-9.4" y="69.9" text-anchor="end" font-size="9.0" font-family="Liberation Sans, sans-serif" fill="#1a1a1a">0.010</text>
<text x="-9.4" y="86.65" text-anchor="end" font-size="9.0" font-family="Liberation Sans, sans-serif" fill="#1a1a1a">0.005</text>
<text x="-9.4" y="103.4" text-anchor="end" font-size="9.0" font-family="Liberation Sans, sans-serif" fill="#1a1a1a">0.000</text>
<text x="0" y="132.3" text-anchor="middle" font-size="9.0" font-family="Liberation Sans, sans-serif" fill="#1a1a1a">0</text>
<text x="22.2" y="132.3" text-anchor="middle" font-size="9.0" font-family="Liberation Sans, sans-serif" fill="#1a1a1a">20</text>
<text x="44.4" y="132.3" text-anchor="middle" font-size="9.0" font-family="Liberation Sans, sans-serif" fill="#1a1a1a">40</text>
<text x="66.6" y="132.3" text-anchor="middle" font-size="9.0" font-family="Liberation Sans, sans-serif" fill="#1a1a1a">60</text>
<text x="88.8" y="132.3" text-anchor="middle" font-size="9.0" font-family="Liberation Sans, sans-serif" fill="#1a1a1a">80</text>
<text x="111" y="132.3" text-anchor="middle" font-size="9.0" font-family="Liberation Sans, sans-serif" fill="#1a1a1a">100</text>
<text x="10.6" y="144" font-size="9.0" font-family="Liberation Sans, sans-serif" fill="#1a1a1a">Distance in % of radius</text>
<text transform="translate(-39.3,80) rotate(-90)" font-size="9.4" font-family="Liberation Sans, sans-serif" fill="#1a1a1a">Probability</text>
<text x="7.4" y="14.2" font-size="6.4" font-family="Liberation Sans, sans-serif" fill="#1a1a1a">C</text>
<text x="7.4" y="26.5" font-size="6.4" font-family="Liberation Sans, sans-serif" fill="#1a1a1a">G1 / 5 Gy</text>
</g>
<g transform="translate(222.3,180.7) rotate(0.4)">
<rect x="1.1" y="73.17" width="3.35" height="27.43" fill="#fff" stroke="#2a2a2a" stroke-width="0.7"/>
<rect x="4.45" y="83.47" width="3.35" height="17.13" fill="url(#hatD)" stroke="#2a2a2a" stroke-width="0.7"/>
<rect x="10.01" y="65.61" width="3.35" height="34.99" fill="#fff" stroke="#2a2a2a" stroke-width="0.7"/>
<rect x="13.36" y="64.31" width="3.35" height="36.29" fill="url(#hatD)" stroke="#2a2a2a" stroke-width="0.7"/>
<rect x="18.91" y="35.14" width="3.35" height="65.46" fill="#fff" stroke="#2a2a2a" stroke-width="0.7"/>
<rect x="22.26" y="63.04" width="3.35" height="37.56" fill="url(#hatD)" stroke="#2a2a2a" stroke-width="0.7"/>
<rect x="27.81" y="35.18" width="3.35" height="65.42" fill="#fff" stroke="#2a2a2a" stroke-width="0.7"/>
<rect x="31.16" y="17.48" width="3.35" height="83.12" fill="url(#hatD)" stroke="#2a2a2a" stroke-width="0.7"/>
<rect x="36.72" y="21.62" width="3.35" height="78.98" fill="#fff" stroke="#2a2a2a" stroke-width="0.7"/>
<rect x="40.07" y="38.22" width="3.35" height="62.38" fill="url(#hatD)" stroke="#2a2a2a" stroke-width="0.7"/>
<rect x="45.62" y="42.36" width="3.35" height="58.24" fill="#fff" stroke="#2a2a2a" stroke-width="0.7"/>
<rect x="48.97" y="29.26" width="3.35" height="71.34" fill="url(#hatD)" stroke="#2a2a2a" stroke-width="0.7"/>
<rect x="54.53" y="67" width="3.35" height="33.6" fill="#fff" stroke="#2a2a2a" stroke-width="0.7"/>
<rect x="57.88" y="56.2" width="3.35" height="44.4" fill="url(#hatD)" stroke="#2a2a2a" stroke-width="0.7"/>
<rect x="63.43" y="72.63" width="3.35" height="27.97" fill="#fff" stroke="#2a2a2a" stroke-width="0.7"/>
<rect x="66.78" y="65.83" width="3.35" height="34.77" fill="url(#hatD)" stroke="#2a2a2a" stroke-width="0.7"/>
<rect x="72.33" y="85.57" width="3.35" height="15.03" fill="#fff" stroke="#2a2a2a" stroke-width="0.7"/>
<rect x="75.68" y="75.87" width="3.35" height="24.73" fill="url(#hatD)" stroke="#2a2a2a" stroke-width="0.7"/>
<rect x="81.24" y="94.21" width="3.35" height="6.39" fill="#fff" stroke="#2a2a2a" stroke-width="0.7"/>
<rect x="84.59" y="96.91" width="3.35" height="3.69" fill="url(#hatD)" stroke="#2a2a2a" stroke-width="0.7"/>
<rect x="90.14" y="98.55" width="3.35" height="2.05" fill="#fff" stroke="#2a2a2a" stroke-width="0.7"/>
<rect x="99.05" y="96.79" width="3.35" height="3.81" fill="#fff" stroke="#2a2a2a" stroke-width="0.7"/>
<path d="M0.7,100.6 L1.07,100.17 L1.44,99.74 L1.81,99.31 L2.17,98.88 L2.54,98.45 L2.91,98.02 L3.28,97.59 L3.65,97.16 L4.02,96.74 L4.39,96.31 L4.76,95.88 L5.12,95.45 L5.49,95.02 L5.86,94.59 L6.23,94.16 L6.6,93.74 L6.97,93.31 L7.34,92.88 L7.71,92.46 L8.07,92.03 L8.44,91.6 L8.81,91.18 L9.18,90.75 L9.55,90.33 L9.92,89.9 L10.29,89.48 L10.66,89.05 L11.02,88.63 L11.39,88.21 L11.76,87.78 L12.13,87.36 L12.5,86.94 L12.87,86.52 L13.24,86.1 L13.61,85.68 L13.97,85.26 L14.34,84.84 L14.71,84.42 L15.08,84 L15.45,83.58 L15.82,83.17 L16.19,82.75 L16.56,82.34 L16.92,81.92 L17.29,81.51 L17.66,81.09 L18.03,80.68 L18.4,80.27 L18.77,79.86 L19.14,79.45 L19.51,79.04 L19.87,78.63 L20.24,78.22 L20.61,77.82 L20.98,77.41 L21.35,77 L21.72,76.6 L22.09,76.2 L22.46,75.79 L22.82,75.39 L23.19,74.99 L23.56,74.59 L23.93,74.19 L24.3,73.8 L24.67,73.4 L25.04,73 L25.41,72.61 L25.77,72.22 L26.14,71.82 L26.51,71.43 L26.88,71.04 L27.25,70.66 L27.62,70.27 L27.99,69.88 L28.36,69.5 L28.72,69.11 L29.09,68.73 L29.46,68.35 L29.83,67.97 L30.2,67.59 L30.57,67.21 L30.94,66.84 L31.3,66.46 L31.67,66.09 L32.04,65.72 L32.41,65.34 L32.78,64.98 L33.15,64.61 L33.52,64.24 L33.89,63.88 L34.25,63.51 L34.62,63.15 L34.99,62.79 L35.36,62.43 L35.73,62.08 L36.1,61.72 L36.47,61.37 L36.84,61.02 L37.2,60.67 L37.57,60.32 L37.94,59.97 L38.31,59.62 L38.68,59.28 L39.05,58.94 L39.42,58.6 L39.79,58.26 L40.15,57.92 L40.52,57.59 L40.89,57.26 L41.26,56.93 L41.63,56.6 L42,56.27 L42.37,55.95 L42.74,55.62 L43.1,55.3 L43.47,54.98 L43.84,54.67 L44.21,54.35 L44.58,54.04 L44.95,53.73 L45.32,53.42 L45.69,53.12 L46.05,52.81 L46.42,52.51 L46.79,52.21 L47.16,51.91 L47.53,51.62 L47.9,51.33 L48.27,51.04 L48.64,50.75 L49,50.46 L49.37,50.18 L49.74,49.9 L50.11,49.62 L50.48,49.34 L50.85,49.07 L51.22,48.8 L51.59,48.53 L51.95,48.27 L52.32,48.01 L52.69,47.74 L53.06,47.49 L53.43,47.23 L53.8,46.98 L54.17,46.73 L54.54,46.49 L54.9,46.24 L55.27,46 L55.64,45.76 L56.01,45.53 L56.38,45.3 L56.75,45.07 L57.12,44.84 L57.48,44.62 L57.85,44.4 L58.22,44.18 L58.59,43.97 L58.96,43.76 L59.33,43.55 L59.7,43.35 L60.07,43.14 L60.43,42.95 L60.8,42.75 L61.17,42.56 L61.54,42.37 L61.91,42.19 L62.28,42.01 L62.65,41.83 L63.02,41.66 L63.38,41.49 L63.75,41.32 L64.12,41.16 L64.49,41 L64.86,40.85 L65.23,40.69 L65.6,40.55 L65.97,40.4 L66.33,40.26 L66.7,40.13 L67.07,40 L67.44,39.87 L67.81,39.74 L68.18,39.62 L68.55,39.51 L68.92,39.4 L69.28,39.29 L69.65,39.19 L70.02,39.09 L70.39,39 L70.76,38.91 L71.13,38.82 L71.5,38.74 L71.87,38.66 L72.23,38.59 L72.6,38.53 L72.97,38.47 L73.34,38.41 L73.71,38.36 L74.08,38.31 L74.45,38.27 L74.82,38.23 L75.18,38.2 L75.55,38.17 L75.92,38.15 L76.29,38.14 L76.66,38.13 L77.03,38.12 L77.4,38.12 L77.77,38.13 L78.13,38.14 L78.5,38.16 L78.87,38.18 L79.24,38.21 L79.61,38.24 L79.98,38.29 L80.35,38.33 L80.72,38.39 L81.08,38.45 L81.45,38.51 L81.82,38.59 L82.19,38.67 L82.56,38.75 L82.93,38.85 L83.3,38.94 L83.67,39.05 L84.03,39.17 L84.4,39.29 L84.77,39.42 L85.14,39.55 L85.51,39.7 L85.88,39.85 L86.25,40.01 L86.61,40.17 L86.98,40.35 L87.35,40.53 L87.72,40.72 L88.09,40.92 L88.46,41.13 L88.83,41.35 L89.2,41.58 L89.56,41.81 L89.93,42.06 L90.3,42.32 L90.67,42.58 L91.04,42.85 L91.41,43.14 L91.78,43.43 L92.15,43.74 L92.51,44.06 L92.88,44.38 L93.25,44.72 L93.62,45.07 L93.99,45.44 L94.36,45.81 L94.73,46.2 L95.1,46.6 L95.46,47.01 L95.83,47.44 L96.2,47.88 L96.57,48.33 L96.94,48.8 L97.31,49.28 L97.49,49.53 L97.68,49.78 L98.05,50.3 L98.41,50.83 L98.78,51.38 L99.15,51.95 L99.52,52.53 L99.89,53.14 L100.26,53.76 L100.63,54.4 L101,55.07 L101.36,55.76 L101.73,56.47 L102.1,57.21 L102.47,57.97 L102.84,58.76 L103.21,59.57 L103.58,60.42 L103.95,61.3 L104.31,62.21 L104.41,62.45 L104.68,63.16 L105.05,64.15 L105.42,65.18 L105.79,66.25 L106.16,67.37 L106.53,68.55 L106.9,69.79 L107.26,71.09 L107.63,72.46 L107.86,73.36 L108,73.92 L108.37,75.47 L108.74,77.14 L109.11,78.94 L109.48,80.9 L109.59,81.56 L109.85,83.09 L110.21,85.57 L110.46,87.43 L110.58,88.5 L110.89,91.53 L110.95,92.28 L111.1,94.37 L111.21,96.33 L111.27,97.67 L111.29,98.6 L111.31,99.23 L111.31,99.66 L111.32,100.6" fill="none" stroke="#1a1a1a" stroke-width="1.1" stroke-linejoin="round"/>
<path d="M-5.4,0 H111.3 V118.6 M0,0 V118.6 M-5.4,100.6 H111.3 M0,114 H111.3" fill="none" stroke="#1a1a1a" stroke-width="1.0"/>
<path d="M-5.4,16.77 H0 M-5.4,33.53 H0 M-5.4,50.3 H0 M-5.4,67.07 H0 M-5.4,83.83 H0 M22.26,114 V118.6 M44.52,114 V118.6 M66.78,114 V118.6 M89.04,114 V118.6" fill="none" stroke="#1a1a1a" stroke-width="1.0"/>
<text x="-9.4" y="2.9" text-anchor="end" font-size="9.0" font-family="Liberation Sans, sans-serif" fill="#1a1a1a">0.030</text>
<text x="-9.4" y="19.67" text-anchor="end" font-size="9.0" font-family="Liberation Sans, sans-serif" fill="#1a1a1a">0.025</text>
<text x="-9.4" y="36.43" text-anchor="end" font-size="9.0" font-family="Liberation Sans, sans-serif" fill="#1a1a1a">0.020</text>
<text x="-9.4" y="53.2" text-anchor="end" font-size="9.0" font-family="Liberation Sans, sans-serif" fill="#1a1a1a">0.015</text>
<text x="-9.4" y="69.97" text-anchor="end" font-size="9.0" font-family="Liberation Sans, sans-serif" fill="#1a1a1a">0.010</text>
<text x="-9.4" y="86.73" text-anchor="end" font-size="9.0" font-family="Liberation Sans, sans-serif" fill="#1a1a1a">0.005</text>
<text x="-9.4" y="103.5" text-anchor="end" font-size="9.0" font-family="Liberation Sans, sans-serif" fill="#1a1a1a">0.000</text>
<text x="0" y="132.1" text-anchor="middle" font-size="9.0" font-family="Liberation Sans, sans-serif" fill="#1a1a1a">0</text>
<text x="22.26" y="132.1" text-anchor="middle" font-size="9.0" font-family="Liberation Sans, sans-serif" fill="#1a1a1a">20</text>
<text x="44.52" y="132.1" text-anchor="middle" font-size="9.0" font-family="Liberation Sans, sans-serif" fill="#1a1a1a">40</text>
<text x="66.78" y="132.1" text-anchor="middle" font-size="9.0" font-family="Liberation Sans, sans-serif" fill="#1a1a1a">60</text>
<text x="89.04" y="132.1" text-anchor="middle" font-size="9.0" font-family="Liberation Sans, sans-serif" fill="#1a1a1a">80</text>
<text x="111.3" y="132.1" text-anchor="middle" font-size="9.0" font-family="Liberation Sans, sans-serif" fill="#1a1a1a">100</text>
<text x="10.6" y="143.1" font-size="9.0" font-family="Liberation Sans, sans-serif" fill="#1a1a1a">Distance in % of radius</text>
<text transform="translate(-39.3,79.4) rotate(-90)" font-size="9.4" font-family="Liberation Sans, sans-serif" fill="#1a1a1a">Probability</text>
<text x="71.8" y="14.2" font-size="6.4" font-family="Liberation Sans, sans-serif" fill="#1a1a1a">D</text>
<text x="71.8" y="26.5" font-size="6.4" font-family="Liberation Sans, sans-serif" fill="#1a1a1a">S/G2 / 5 Gy</text>
</g>
</svg>
</body></html>
